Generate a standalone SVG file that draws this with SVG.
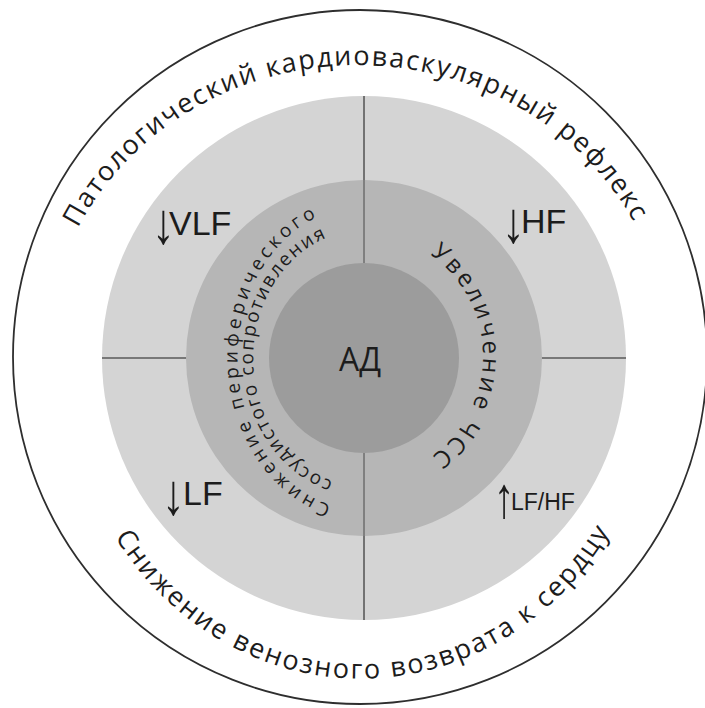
<svg xmlns="http://www.w3.org/2000/svg" width="705" height="708" viewBox="0 0 705 708">
  <style>
    .arc { font-family: "Open Sans", "Noto Sans", "DejaVu Sans", sans-serif; fill: #1c1c1c; }
    .lbl { font-family: "Liberation Sans", Arial, sans-serif; fill: #1c1c1c; }
    .arr { font-family: "Liberation Sans", Arial, sans-serif; fill: #1c1c1c; font-size: 34px; }
    .div { stroke: #5a5a5a; stroke-width: 1.6; fill: none; }
  </style>
  <defs>
    <path id="pTop" d="M 78 228 A 312 293 0 0 1 637 228"/>
    <path id="pBot" d="M 115 537 A 296 320 0 0 0 612 528"/>
    <path id="pLeftOuter" d="M 331 505 A 126 152 0 0 1 325 213.5"/>
    <path id="pLeftInner" d="M 333 481 A 111 128 0 0 1 331 236"/>
    <path id="pRight" d="M 430.1 254.4 A 124 124 0 0 1 428.3 458.8"/>
  </defs>
  <rect x="0" y="0" width="705" height="708" fill="#ffffff"/>

  <g id="outer-circle">
    <circle cx="360" cy="357" r="347" fill="none" stroke="#2e2e2e" stroke-width="1.8"/>
    <text class="arc" font-size="27"><textPath href="#pTop" textLength="672" lengthAdjust="spacing">Патологический кардиоваскулярный рефлекс</textPath></text>
    <text class="arc" font-size="27"><textPath href="#pBot" textLength="598" lengthAdjust="spacing">Снижение венозного возврата к сердцу</textPath></text>
  </g>

  <g id="hrv-ring">
    <circle cx="364" cy="358" r="262" fill="#d4d4d4"/>
  </g>

  <g id="connectors">
    <line class="div" x1="102" y1="358" x2="190" y2="358"/>
    <line class="div" x1="540" y1="358" x2="626" y2="358"/>
    <line class="div" x1="364" y1="96" x2="364" y2="270"/>
    <line class="div" x1="364" y1="446" x2="364" y2="620"/>
  </g>

  <g id="mid-ring">
    <path d="M 186 358 A 178 178 0 0 1 363.2 180 L 363.2 536 A 178 178 0 0 1 186 358 Z" fill="#b6b6b6"/>
    <path d="M 542 358 A 178 178 0 0 0 364.8 180 L 364.8 536 A 178 178 0 0 0 542 358 Z" fill="#b6b6b6"/>
  </g>

  <g id="ad">
    <circle cx="364" cy="358" r="95" fill="#9c9c9c"/>
    <text x="360" y="371" text-anchor="middle" font-family="'Open Sans', 'Noto Sans', sans-serif" font-size="32" fill="#1c1c1c">АД</text>
  </g>

  <g id="mid-left-text">
    <text class="arc" font-size="19"><textPath href="#pLeftOuter" textLength="355" lengthAdjust="spacing">Снижение периферического</textPath></text>
    <text class="arc" font-size="19"><textPath href="#pLeftInner" textLength="305" lengthAdjust="spacing">сосудистого сопротивления</textPath></text>
  </g>

  <g id="mid-right-text">
    <text class="arc" font-size="24"><textPath href="#pRight" textLength="236" lengthAdjust="spacing">Увеличение ЧСС</textPath></text>
  </g>

  <g id="vlf">
    <text class="arr" transform="translate(152 243) scale(1.35 1.7)">↓</text>
    <text class="lbl" x="169" y="235" font-size="34">VLF</text>
  </g>
  <g id="hf">
    <text class="arr" transform="translate(502 242) scale(1.35 1.7)">↓</text>
    <text class="lbl" x="521" y="233" font-size="34">HF</text>
  </g>
  <g id="lf">
    <text class="arr" transform="translate(162 514) scale(1.35 1.7)">↓</text>
    <text class="lbl" x="183" y="505" font-size="34">LF</text>
  </g>
  <g id="lfhf">
    <text class="arr" transform="translate(494 517) scale(1.2 1.7)">↑</text>
    <text class="lbl" x="511" y="510" font-size="23">LF/HF</text>
  </g>
</svg>
